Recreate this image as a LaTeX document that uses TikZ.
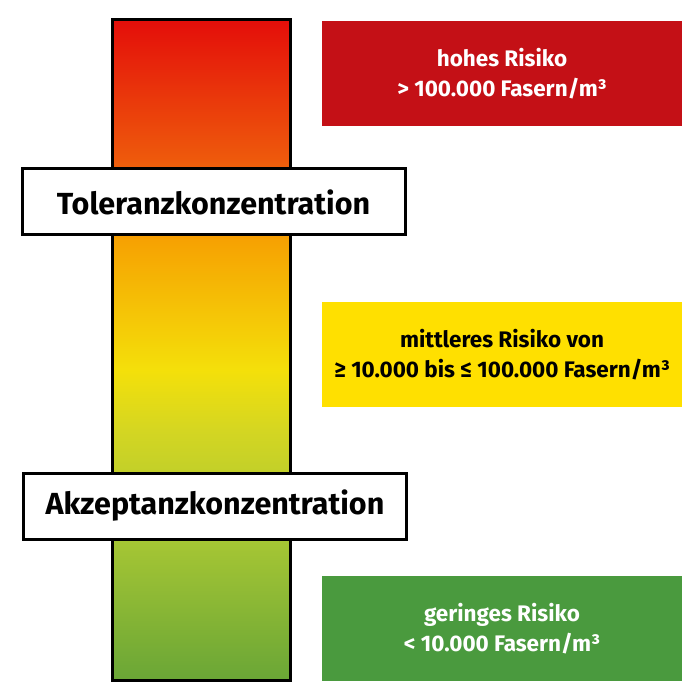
\documentclass[tikz,border=0pt]{standalone}
\usepackage{fontspec}
\setmainfont{Fira Sans}
\begin{document}
\begin{tikzpicture}[x=1pt,y=-1pt,
  lbl/.style={draw=black,line width=3pt,fill=white,minimum width=383pt,minimum height=66pt,font=\fontsize{30.5}{32}\selectfont\bfseries,inner sep=0pt},
  riskbox/.style={minimum width=360pt,minimum height=105pt,align=center,font=\fontsize{22.5}{30}\selectfont\bfseries,inner sep=0pt}]
\definecolor{c1}{HTML}{E40E0A}
\definecolor{c2}{HTML}{EE5A0C}
\definecolor{c3}{HTML}{F6A202}
\definecolor{c4}{HTML}{F4E00A}
\definecolor{c5}{HTML}{D4D622}
\definecolor{c6}{HTML}{A6C634}
\definecolor{c7}{HTML}{6AA636}
\definecolor{rred}{HTML}{C41016}
\definecolor{ryel}{HTML}{FFE000}
\definecolor{rgrn}{HTML}{4A9A3E}
\useasboundingbox (0,0) rectangle (700,700);
\shade[top color=c1,bottom color=c2] (112,20) rectangle (290,161);
\shade[top color=c2,bottom color=c3] (112,160) rectangle (290,241);
\shade[top color=c3,bottom color=c4] (112,240) rectangle (290,371);
\shade[top color=c4,bottom color=c5] (112,370) rectangle (290,431);
\shade[top color=c5,bottom color=c6] (112,430) rectangle (290,541);
\shade[top color=c6,bottom color=c7] (112,540) rectangle (290,680);
\node[draw=black,line width=3pt,minimum width=178pt,minimum height=660pt,inner sep=0pt] (bar) at (201,350) {};
\node[lbl] (tol) at (213.5,202) {Toleranzkonzentration};
\node[lbl] (akz) at (215,506) {Akzeptanzkonzentration};
\node[riskbox,fill=rred,text=white] (hoch) at (502,73.5) {hohes Risiko\\> 100.000 Fasern/m³};
\node[riskbox,fill=ryel,text=black] (mittel) at (502,354.5) {mittleres Risiko von\\≥ 10.000 bis ≤ 100.000 Fasern/m³};
\node[riskbox,fill=rgrn,text=white] (gering) at (502,628.5) {geringes Risiko\\< 10.000 Fasern/m³};
\end{tikzpicture}
\end{document}
